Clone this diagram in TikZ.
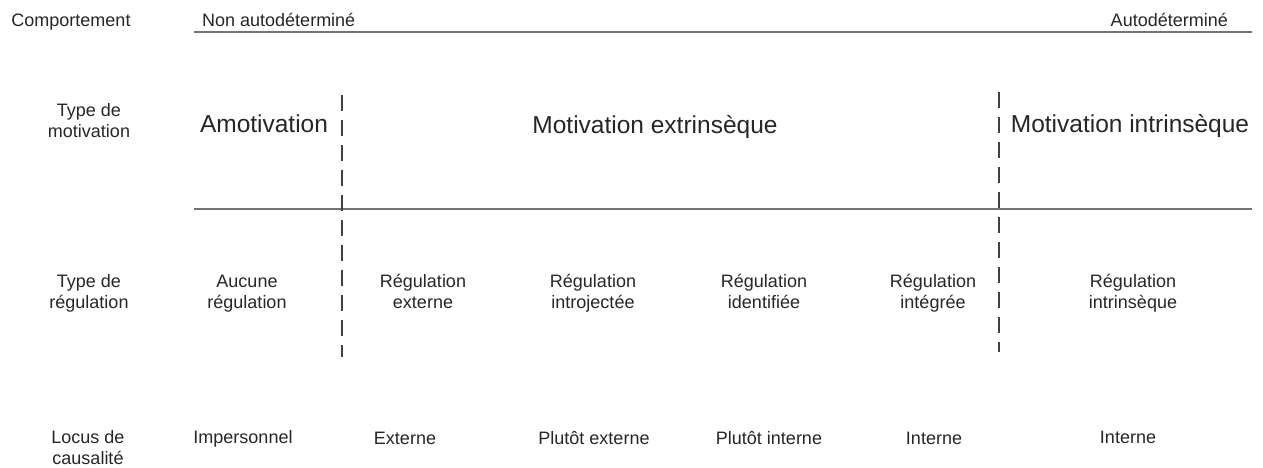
\documentclass[tikz,border=0pt]{standalone}
\usepackage{fontspec}
\setmainfont{Liberation Sans}
\begin{document}
\begin{tikzpicture}[x=1pt,y=-1pt,
	lbl/.style={font=\fontsize{18}{21}\selectfont,text=black!85,inner sep=0pt,align=center,anchor=base},
	big/.style={lbl,font=\fontsize{24.5}{28}\selectfont},
	hline/.style={draw=black!55,line width=2pt},
	vdash/.style={draw=black!75,line width=1.5pt,dash pattern=on 16pt off 9pt}]
	\useasboundingbox (0,0) rectangle (1263,467);
	\def\ytop{26}
	\def\ymot{132}
	\def\yreg{308}
	\def\yloc{443}
	% rows of the table (two-line labels sit on their last baseline)
	\node[lbl] (comp) at (71,\ytop) {Comportement};
	\node[lbl,anchor=base west] (nonauto) at (202,\ytop) {Non autodéterminé};
	\node[lbl,anchor=base east] (auto) at (1228,\ytop) {Autodéterminé};
	\node[lbl] (tmot) at (89,137) {Type de\\motivation};
	\node[big] (amot) at (264,\ymot) {Amotivation};
	\node[big] (mext) at (655,\ymot+1) {Motivation extrinsèque};
	\node[big] (mint) at (1130,\ymot) {Motivation intrinsèque};
	\node[lbl] (treg) at (89,\yreg) {Type de\\régulation};
	\node[lbl] (raucune) at (247,\yreg) {Aucune\\régulation};
	\node[lbl] (rext) at (423,\yreg) {Régulation\\externe};
	\node[lbl] (rintro) at (593,\yreg) {Régulation\\introjectée};
	\node[lbl] (rident) at (764,\yreg) {Régulation\\identifiée};
	\node[lbl] (rinteg) at (933,\yreg) {Régulation\\intégrée};
	\node[lbl] (rintr) at (1133,\yreg) {Régulation\\intrinsèque};
	\node[lbl] (locus) at (88,\yloc+21) {Locus de\\causalité};
	\node[lbl] (limp) at (243,\yloc) {Impersonnel};
	\node[lbl] (lext) at (405,\yloc+1) {Externe};
	\node[lbl] (lpext) at (594,\yloc+1) {Plutôt externe};
	\node[lbl] (lpint) at (769,\yloc+1) {Plutôt interne};
	\node[lbl] (lint) at (934,\yloc+1) {Interne};
	\node[lbl] (lintr) at (1128,\yloc) {Interne};
	% rules
	\coordinate (h1a) at (194,32);
	\coordinate (h1b) at (1252,32);
	\coordinate (h2a) at (194,209);
	\coordinate (h2b) at (1252,209);
	\coordinate (d1a) at (342,95);
	\coordinate (d1b) at (342,357);
	\coordinate (d2a) at (999,92);
	\coordinate (d2b) at (999,352);
	\draw[hline] (h1a) -- (h1b);
	\draw[hline] (h2a) -- (h2b);
	\draw[vdash] (d1a) -- (d1b);
	\draw[vdash] (d2a) -- (d2b);
\end{tikzpicture}
\end{document}
